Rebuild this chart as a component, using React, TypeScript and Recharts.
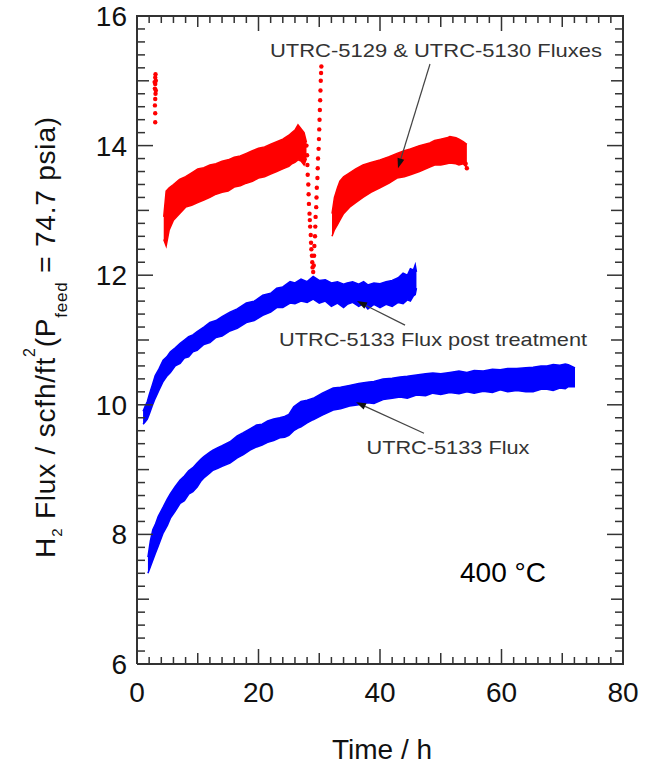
import React from 'react';
import { ComposedChart, Area, Line, XAxis, YAxis, ReferenceLine, ReferenceDot, Label } from 'recharts';

const FONT = '"Liberation Sans", Arial, Helvetica, sans-serif';
const INK = '#333';
const RED = '#ff0000';
const BLUE = '#0000ff';

// axis ticks
const xDomain = [0, 80];
const yDomain = [6, 16];
const xMajor = [0, 20, 40, 60, 80];
const yMajor = [6, 8, 10, 12, 14, 16];
const xTicks = Array.from({ length: 41 }, (_, i) => i * 2);
const yTicks = Array.from({ length: 51 }, (_, i) => Math.round((6 + i * 0.2) * 10) / 10);

// UTRC-5129 & UTRC-5130, first run (band envelope)
const red1T = [4.4, 4.8, 5.3, 6, 7, 8, 9, 10, 11, 12, 13, 14, 15, 16, 17, 18, 19, 20, 21, 22, 23, 24, 25, 25.5, 26, 26.5, 27, 27.5, 27.9];
const red1Low = [12.55, 12.45, 12.7, 12.85, 12.95, 13.05, 13.08, 13.12, 13.16, 13.2, 13.25, 13.28, 13.3, 13.36, 13.38, 13.42, 13.45, 13.5, 13.52, 13.56, 13.6, 13.64, 13.68, 13.72, 13.74, 13.78, 13.76, 13.7, 13.8];
const red1High = [12.9, 13.3, 13.35, 13.4, 13.48, 13.52, 13.58, 13.64, 13.66, 13.7, 13.72, 13.76, 13.78, 13.82, 13.84, 13.88, 13.92, 13.96, 13.98, 14.02, 14.06, 14.1, 14.16, 14.2, 14.24, 14.32, 14.26, 14.2, 14.05];

// second run
const red2T = [32.1, 32.5, 33, 33.4, 34, 35, 36, 37.2, 38.5, 40, 41.5, 42.8, 44, 45, 46.5, 48.2, 49, 50, 51, 51.5, 52.5, 53, 53.7, 54.3];
const red2Low = [12.6, 12.7, 12.78, 12.85, 12.95, 13.05, 13.12, 13.2, 13.28, 13.35, 13.42, 13.5, 13.52, 13.55, 13.6, 13.67, 13.7, 13.7, 13.72, 13.73, 13.72, 13.7, 13.72, 13.66];
const red2High = [12.95, 13.2, 13.35, 13.45, 13.52, 13.58, 13.64, 13.7, 13.74, 13.78, 13.83, 13.88, 13.92, 13.95, 14.0, 14.04, 14.08, 14.1, 14.12, 14.14, 14.12, 14.1, 14.06, 14.02];

// loose red points (start spike and the dip near 29 h)
const redDotT = [
  3.0, 3.0, 2.95, 3.0, 3.05, 2.95, 3.0, 3.1, 3.0, 3.05, 2.9, 3.1,
  27.9, 28.0, 28.05, 28.1, 28.2, 28.25, 28.3, 28.4, 28.45, 28.5, 28.6, 28.65, 28.7, 28.8, 28.85, 28.9, 29.0,
  29.1, 29.15, 29.2, 29.3, 29.35, 29.4, 29.5, 29.55, 29.6, 29.7, 29.75, 29.8, 29.9, 29.95, 30.0, 30.05, 30.1, 30.15, 30.2, 30.25, 30.3, 30.35,
  54.3, 54.1,
];
const redDotY = [
  14.36, 14.5, 14.62, 14.72, 14.8, 14.88, 14.95, 15.0, 15.05, 15.1, 14.98, 14.85,
  14.0, 13.85, 13.7, 13.55, 13.4, 13.25, 13.1, 12.95, 12.85, 12.75, 12.62, 12.5, 12.4, 12.3, 12.2, 12.12, 12.05,
  12.15, 12.3, 12.45, 12.6, 12.75, 12.9, 13.05, 13.2, 13.35, 13.5, 13.65, 13.8, 13.95, 14.1, 14.25, 14.4, 14.55, 14.7, 14.85, 15.0, 15.12, 15.22,
  13.65, 13.72,
];

// UTRC-5133 Flux post treatment
const postT = [1.0, 1.3, 1.7, 2.0, 2.5, 3.0, 3.6, 4.3, 4.9, 5.5, 6.3, 7.1, 7.8, 8.5, 9.2, 9.9, 11, 12, 13, 14, 15.3, 16.5, 18, 19.3, 20.7, 22, 23, 24, 25.2, 26, 27, 28, 29, 30, 31, 32, 33, 34, 34.6, 35.5, 36.5, 37.3, 38, 39, 40, 41, 42, 43, 43.8, 44.5, 45, 45.5, 45.8, 46];
const postLow = [9.7, 9.73, 9.78, 9.85, 9.98, 10.1, 10.22, 10.36, 10.44, 10.5, 10.6, 10.64, 10.72, 10.74, 10.82, 10.84, 10.93, 10.96, 11.04, 11.06, 11.14, 11.18, 11.27, 11.3, 11.38, 11.43, 11.5, 11.5, 11.57, 11.56, 11.6, 11.58, 11.63, 11.57, 11.6, 11.52, 11.57, 11.5, 11.55, 11.58, 11.52, 11.56, 11.48, 11.55, 11.5, 11.55, 11.52, 11.58, 11.56, 11.62, 11.6, 11.68, 11.7, 11.8];
const postHigh = [9.9, 9.97, 10.05, 10.15, 10.3, 10.45, 10.55, 10.69, 10.74, 10.82, 10.88, 10.95, 11.0, 11.05, 11.08, 11.13, 11.2, 11.27, 11.3, 11.36, 11.43, 11.48, 11.57, 11.6, 11.69, 11.72, 11.8, 11.82, 11.9, 11.88, 11.94, 11.9, 11.98, 11.92, 11.93, 11.88, 11.9, 11.86, 11.88, 11.9, 11.86, 11.9, 11.85, 11.88, 11.87, 11.9, 11.92, 11.96, 12.03, 12.0, 12.1, 12.08, 12.16, 12.05];

// UTRC-5133 Flux
const fluxT = [1.8, 2.2, 2.6, 3.0, 3.5, 4.3, 5.0, 5.5, 6.3, 7.1, 7.8, 8.5, 9.2, 9.9, 10.5, 11, 12, 12.5, 13.3, 14, 15.3, 16.5, 17.5, 18.6, 19.7, 20.6, 21.5, 22.5, 23.5, 24.3, 25, 25.8, 26.5, 27, 28, 29, 30.5, 32.3, 33.5, 35, 36.5, 37.9, 39, 40.5, 42, 43.3, 44.5, 46, 47.5, 48.7, 50, 51.5, 53, 54.3, 55.5, 57, 58.5, 59.8, 61, 62.5, 64, 65.2, 66.5, 67.5, 68.5, 69.6, 70.5, 71, 72.1];
const fluxLow = [7.4, 7.5, 7.6, 7.7, 7.82, 8.02, 8.14, 8.25, 8.36, 8.48, 8.52, 8.62, 8.66, 8.73, 8.82, 8.87, 8.95, 8.99, 9.02, 9.05, 9.1, 9.18, 9.23, 9.3, 9.35, 9.38, 9.42, 9.45, 9.49, 9.5, 9.53, 9.6, 9.64, 9.66, 9.72, 9.77, 9.84, 9.92, 9.94, 9.98, 10.0, 10.03, 10.02, 10.08, 10.1, 10.12, 10.1, 10.15, 10.14, 10.18, 10.16, 10.19, 10.17, 10.2, 10.18, 10.21, 10.19, 10.23, 10.2, 10.22, 10.2, 10.2, 10.24, 10.24, 10.22, 10.26, 10.25, 10.28, 10.28];
const fluxHigh = [7.65, 7.9, 8.07, 8.15, 8.28, 8.42, 8.55, 8.63, 8.74, 8.84, 8.9, 8.98, 9.03, 9.1, 9.16, 9.2, 9.27, 9.3, 9.34, 9.37, 9.43, 9.52, 9.57, 9.63, 9.69, 9.7, 9.75, 9.78, 9.8, 9.82, 9.85, 9.97, 10.02, 10.05, 10.07, 10.1, 10.18, 10.26, 10.27, 10.3, 10.33, 10.35, 10.36, 10.4, 10.41, 10.43, 10.44, 10.46, 10.48, 10.49, 10.48, 10.5, 10.52, 10.5, 10.53, 10.52, 10.55, 10.54, 10.56, 10.56, 10.57, 10.58, 10.6, 10.6, 10.62, 10.61, 10.63, 10.62, 10.57];

const band = (t: number[], lo: number[], hi: number[]) => t.map((v, i) => ({ t: v, range: [lo[i], hi[i]] }));
const red1 = band(red1T, red1Low, red1High);
const red2 = band(red2T, red2Low, red2High);
const post = band(postT, postLow, postHigh);
const flux = band(fluxT, fluxLow, fluxHigh);
const redDots = redDotT.map((t, i) => ({ t, y: redDotY[i] }));

// chart geometry
const W = 654;
const H = 764;
const margin = { top: 16, right: 31, bottom: 40, left: 77 };
const yAxisW = 60;
const xAxisH = 60;
const PL = margin.left + yAxisW;
const PR = W - margin.right;
const PT = margin.top;
const PB = H - margin.bottom - xAxisH;

const xLen = (v: number) => (v % 20 === 0 ? 15 : v % 10 === 0 ? 11 : 7);
const yLen = (v: number) => {
  const k = Math.round(v * 10);
  return k % 20 === 0 ? 16 : k % 10 === 0 ? 12 : 8;
};
const px = (v: number) => PL + ((v - xDomain[0]) / (xDomain[1] - xDomain[0])) * (PR - PL);
const py = (v: number) => PB - ((v - yDomain[0]) / (yDomain[1] - yDomain[0])) * (PB - PT);

// inward ticks on all four sides plus the top/right frame
const FrameTicks = () => (
  <svg width={W} height={H} style={{ position: 'absolute', left: 0, top: 0, pointerEvents: 'none' }}>
    <rect x={PL - 1} y={PT - 1} width={PR - PL + 2} height={2} fill={INK} />
    <rect x={PR - 1} y={PT - 1} width={2} height={PB - PT + 2} fill={INK} />
    {xTicks.map((v) => (
      <g key={`x${v}`}>
        <rect x={px(v) - 0.75} y={PB - xLen(v)} width={1.5} height={xLen(v)} fill={INK} />
        <rect x={px(v) - 0.75} y={PT} width={1.5} height={xLen(v)} fill={INK} />
      </g>
    ))}
    {yTicks.map((v) => (
      <g key={`y${v}`}>
        <rect x={PL} y={py(v) - 0.75} width={yLen(v)} height={1.5} fill={INK} />
        <rect x={PR - yLen(v)} y={py(v) - 0.75} width={yLen(v)} height={1.5} fill={INK} />
      </g>
    ))}
  </svg>
);

const BottomTick = ({ x, y, payload }: any) =>
  xMajor.includes(payload.value) ? (
    <text x={x} y={y + 38} textAnchor="middle" fontSize={28} fontFamily={FONT} fill="#111">{payload.value}</text>
  ) : <g />;
const LeftTick = ({ x, y, payload }: any) =>
  yMajor.includes(payload.value) ? (
    <text x={x - 10} y={y + 10} textAnchor="end" fontSize={28} fontFamily={FONT} fill="#111">{payload.value}</text>
  ) : <g />;

const YTitle = () => (
  <text transform="translate(55,337) rotate(-90)" x={0} y={0} textAnchor="middle" fontSize={28} fontFamily={FONT} fill="#111" letterSpacing={0.8}>
    <tspan>H</tspan>
    <tspan fontSize={15} dy={7}>2</tspan>
    <tspan dy={-7}> Flux / scfh/ft</tspan>
    <tspan fontSize={16} dy={-20}>2</tspan>
    <tspan dy={20}>(P</tspan>
    <tspan fontSize={17} dy={12}>feed</tspan>
    <tspan dy={-12}> = 74.7 psia)</tspan>
  </text>
);

const XTitle = () => (
  <text x={382} y={759} textAnchor="middle" fontSize={28} fontFamily={FONT} fill="#111">Time / h</text>
);

const arrow = (text: string, dx: number, dy: number, width: number) => (p: any) => {
  const { x1, y1, x2, y2 } = p;
  const a = Math.atan2(y2 - y1, x2 - x1);
  const L = 10;
  const Wd = 3.5;
  const bx = x2 - L * Math.cos(a);
  const by = y2 - L * Math.sin(a);
  const pts = `${x2},${y2} ${bx - Wd * Math.sin(a)},${by + Wd * Math.cos(a)} ${bx + Wd * Math.sin(a)},${by - Wd * Math.cos(a)}`;
  return (
    <g>
      <line x1={x1} y1={y1} x2={bx} y2={by} stroke="#444" strokeWidth={1.2} />
      <polygon points={pts} fill="#111" />
      <text x={x1 + dx} y={y1 + dy} textAnchor="middle" fontSize={18.5} fontFamily={FONT} fill="#333" textLength={width} lengthAdjust="spacingAndGlyphs">{text}</text>
    </g>
  );
};

const bandProps = { type: 'linear' as const, strokeWidth: 1.5, fillOpacity: 1, dot: false, activeDot: false, isAnimationActive: false };

export default function App() {
  return (
    <div style={{ position: 'absolute', left: 0, top: 0, width: W, height: H, background: '#fff' }}>
      <ComposedChart width={W} height={H} margin={margin}>
        <XAxis dataKey="t" type="number" domain={xDomain} ticks={xTicks} interval={0} tickSize={0} tickMargin={0}
          height={xAxisH} axisLine={{ stroke: INK, strokeWidth: 2 }} tickLine={false} tick={<BottomTick />}>
          <Label content={<XTitle />} />
        </XAxis>
        <YAxis type="number" domain={yDomain} ticks={yTicks} interval={0} tickSize={0} tickMargin={0} width={yAxisW}
          axisLine={{ stroke: INK, strokeWidth: 2 }} tickLine={false} tick={<LeftTick />}>
          <Label content={<YTitle />} />
        </YAxis>

        <Area data={flux} dataKey="range" stroke={BLUE} fill={BLUE} {...bandProps} />
        <Area data={post} dataKey="range" stroke={BLUE} fill={BLUE} {...bandProps} />
        <Area data={red1} dataKey="range" stroke={RED} fill={RED} {...bandProps} />
        <Area data={red2} dataKey="range" stroke={RED} fill={RED} {...bandProps} />
        <Line data={redDots} dataKey="y" type="linear" stroke="none" dot={{ r: 2.2, fill: RED, stroke: 'none' }} activeDot={false} isAnimationActive={false} />

        <ReferenceLine segment={[{ x: 48.23, y: 15.26 }, { x: 42.96, y: 13.65 }]} shape={arrow('UTRC-5129 & UTRC-5130 Fluxes', 6, -7, 332)} />
        <ReferenceLine segment={[{ x: 44.12, y: 11.23 }, { x: 36.21, y: 11.6 }]} shape={arrow('UTRC-5133 Flux post treatment', 28, 21, 308)} />
        <ReferenceLine segment={[{ x: 47.24, y: 9.56 }, { x: 36.05, y: 10.04 }]} shape={arrow('UTRC-5133 Flux', 24, 21, 163)} />
        <ReferenceDot x={60.25} y={7.27} r={0} shape={(p: any) => (
          <text x={p.cx} y={p.cy} textAnchor="middle" fontSize={28} fontFamily={FONT} fill="#000">400 °C</text>
        )} />
      </ComposedChart>
      <FrameTicks />
    </div>
  );
}
